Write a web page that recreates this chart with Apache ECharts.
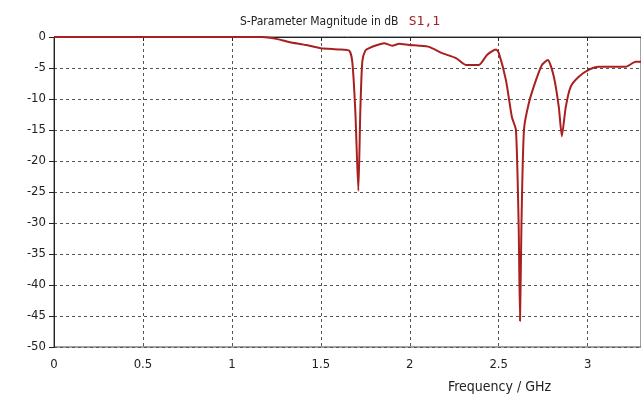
<!DOCTYPE html>
<html>
<head>
<meta charset="utf-8">
<script src="https://cdn.jsdelivr.net/npm/echarts@6/dist/echarts.min.js"></script>
<style>
  html, body { margin: 0; padding: 0; background: #fff; }
  #chart { width: 641px; height: 400px; }
</style>
</head>
<body>
<div id="chart"></div>
<script>
// frequency (GHz) and |S11| (dB)
const freqGHz = [
  0, 0.5, 1.0, 1.17, 1.25, 1.32, 1.42, 1.50, 1.60, 1.66,
  1.677, 1.694, 1.711, 1.722, 1.733, 1.75, 1.772, 1.817, 1.856, 1.901,
  1.941, 1.997, 2.053, 2.109, 2.182, 2.26, 2.316, 2.389, 2.434, 2.485,
  2.501, 2.541, 2.574, 2.597, 2.612, 2.620, 2.628, 2.642, 2.670, 2.709,
  2.743, 2.776, 2.810, 2.838, 2.855, 2.877, 2.905, 2.950, 3.006, 3.062,
  3.214, 3.270, 3.30
];
const s11dB = [
  0, 0, 0, 0, -0.3, -0.8, -1.3, -1.8, -2.0, -2.2,
  -4, -12, -24.8, -12, -4, -2.2, -1.8, -1.3, -1.0, -1.4,
  -1.1, -1.3, -1.4, -1.6, -2.6, -3.4, -4.5, -4.5, -2.9, -2.0,
  -2.6, -7, -12.9, -15, -30, -45.8, -30, -15, -10.6, -7,
  -4.5, -3.7, -6.4, -11.3, -16, -11.3, -8, -6.4, -5.3, -4.8,
  -4.8, -4.0, -4.0
];
const xTicks = [0, 0.5, 1, 1.5, 2, 2.5, 3];
const yTicks = [0, -5, -10, -15, -20, -25, -30, -35, -40, -45, -50];

const chart = echarts.init(document.getElementById('chart'), null, { renderer: 'canvas' });

const font = '"DejaVu Sans Condensed", "DejaVu Sans", sans-serif';
const gridLine = { show: true, lineStyle: { color: '#555', width: 1, type: [3, 3] } };

const option = {
  animation: false,
  backgroundColor: '#fff',
  textStyle: { fontFamily: font },
  title: {
    left: 235,
    top: 8,
    text: '{a|S-Parameter Magnitude in dB}  {b|S1,1}',
    textStyle: {
      fontWeight: 'normal',
      rich: {
        a: { fontFamily: font, fontSize: 12, fontWeight: 'normal', color: '#222' },
        b: { fontFamily: '"DejaVu Sans Mono", monospace', fontSize: 13, fontWeight: 'normal', color: '#a3202a' }
      }
    }
  },
  grid: {
    left: 54, top: 37, width: 588, height: 310,
    show: true, borderColor: '#444', borderWidth: 1, backgroundColor: 'transparent'
  },
  xAxis: {
    type: 'value',
    min: 0, max: 3.3, interval: 0.5,
    axisLine: { show: true, lineStyle: { color: '#222', width: 1 } },
    axisTick: { show: true, length: 4, lineStyle: { color: '#222' } },
    axisLabel: {
      color: '#222', fontSize: 13, fontFamily: font, margin: 11,
      customValues: xTicks,
      formatter: v => String(v)
    },
    splitLine: gridLine
  },
  yAxis: {
    type: 'value',
    min: -50, max: 0, interval: 5,
    axisLine: { show: true, lineStyle: { color: '#222', width: 1 } },
    axisTick: { show: true, length: 5, lineStyle: { color: '#222' } },
    axisLabel: {
      color: '#222', fontSize: 13, fontFamily: font, margin: 8,
      formatter: v => yTicks.includes(v) ? String(v) : ''
    },
    splitLine: gridLine
  },
  graphic: [{
    type: 'text',
    left: 448,
    top: 380,
    style: { text: 'Frequency / GHz', font: '14px ' + font, fill: '#222' }
  }],
  series: [{
    name: 'S1,1',
    type: 'line',
    showSymbol: false,
    smooth: 0.2,
    clip: true,
    lineStyle: { color: '#a8201f', width: 2 },
    data: freqGHz.map((f, i) => [f, s11dB[i]])
  }]
};

chart.setOption(option);
</script>
</body>
</html>
